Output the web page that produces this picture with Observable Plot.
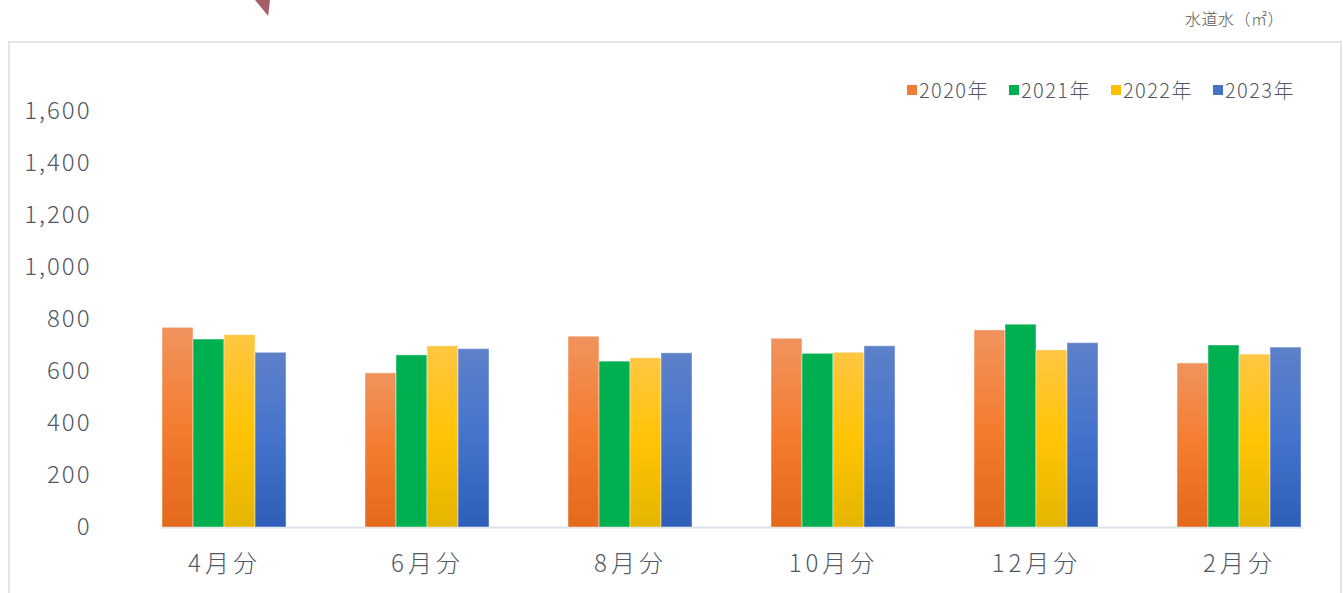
<!DOCTYPE html>
<html>
<head>
<meta charset="utf-8">
<script src="https://cdn.jsdelivr.net/npm/d3@7"></script>
<script src="https://cdn.jsdelivr.net/npm/@observablehq/plot@0.6"></script>
<style>
  html, body { margin: 0; padding: 0; background: #fff; overflow: hidden; }
  #wrap { position: relative; width: 1343px; height: 593px; font-family: "Noto Sans CJK JP", "Noto Sans", sans-serif; font-weight: 300; }
  #chart { position: absolute; left: 0; top: 0; }
  #frame { position: absolute; left: 8px; top: 41px; width: 1334px; height: 600px; border: 2px solid #e4e4e4; box-sizing: border-box; pointer-events: none; }
  #pointer { position: absolute; left: 255px; top: 0; width: 15px; height: 16px; background: #a85e69; clip-path: polygon(0 0, 100% 0, 88% 100%); }
  #unit { position: absolute; left: 1185px; top: 6px; font-size: 16px; color: #595959; white-space: nowrap; letter-spacing: 0.5px; }
  #legend { position: absolute; left: 907px; top: 77px; display: flex; font-size: 20px; color: #505866; line-height: 26px; }
  .item { width: 102px; display: flex; align-items: center; letter-spacing: 1.4px; white-space: nowrap; }
  .sw { width: 10px; height: 10px; margin-right: 2px; flex: none; }
  #chart svg [aria-label="fx-axis tick label"] { letter-spacing: 4px; }
  #chart svg [aria-label="y-axis tick label"] { letter-spacing: 2px; }
</style>
</head>
<body>
<div id="wrap">
  <div id="chart"></div>
  <div id="frame"></div>
  <div id="pointer"></div>
  <div id="unit"></div>
  <div id="legend"></div>
</div>
<script>
// ---- data ----
const months = ["4月分", "6月分", "8月分", "10月分", "12月分", "2月分"];
const years = ["2020年", "2021年", "2022年", "2023年"];
const v2020 = [768, 593, 734, 726, 758, 631];
const v2021 = [723, 662, 638, 668, 780, 700];
const v2022 = [740, 697, 651, 672, 681, 665];
const v2023 = [672, 686, 670, 697, 709, 692];
const yTicks = [0, 200, 400, 600, 800, 1000, 1200, 1400, 1600];
const unitLabel = "水道水（㎡）";

// ---- styles ----
const swatchColors = ["#f07d35", "#00b050", "#ffc000", "#4472c4"];
const gradStops = [
  ["#f1935e", "#f47c2f", "#e3691b"],
  ["#00b050", "#00b050", "#00b050"],
  ["#ffc643", "#ffc404", "#e4b500"],
  ["#5d81c9", "#4573cc", "#2e5eb8"]
];
const gradIds = years.map((_, i) => "grad" + i);

const series = [v2020, v2021, v2022, v2023];
const data = [];
months.forEach((m, mi) => {
  years.forEach((y, yi) => data.push({month: m, year: y, value: series[yi][mi]}));
});

const plot = Plot.plot({
  width: 1343,
  height: 593,
  marginLeft: 120,
  marginRight: 0,
  marginTop: 111,
  marginBottom: 66,
  style: {
    fontFamily: "'Noto Sans CJK JP', 'Noto Sans', sans-serif",
    fontSize: "24px",
    fontWeight: 300,
    color: "#505866",
    background: "transparent",
    letterSpacing: "1px"
  },
  fx: {domain: months, paddingInner: 0.39, paddingOuter: 0.195, label: null, tickSize: 0, tickPadding: 27},
  x: {domain: years, padding: 0, axis: null},
  y: {domain: [0, 1600], ticks: yTicks, tickFormat: d3.format(","), tickSize: 0, tickPadding: 71, label: null},
  color: {domain: years, range: gradIds.map(id => `url(#${id})`)},
  marks: [
    Plot.frame({anchor: "bottom", facet: "super", stroke: "#dde1e8", strokeWidth: 2}),
    Plot.barY(data, {fx: "month", x: "year", y: "value", fill: "year", stroke: "#ffffff", strokeOpacity: 0.45, strokeWidth: 1})
  ]
});

// gradients
const ns = "http://www.w3.org/2000/svg";
const defs = document.createElementNS(ns, "defs");
gradIds.forEach((id, i) => {
  const g = document.createElementNS(ns, "linearGradient");
  g.setAttribute("id", id);
  g.setAttribute("x1", "0"); g.setAttribute("y1", "0");
  g.setAttribute("x2", "0"); g.setAttribute("y2", "1");
  [0, 0.5, 1].forEach((o, k) => {
    const s = document.createElementNS(ns, "stop");
    s.setAttribute("offset", o);
    s.setAttribute("stop-color", gradStops[i][k]);
    g.appendChild(s);
  });
  defs.appendChild(g);
});
plot.prepend(defs);
document.getElementById("chart").appendChild(plot);

document.getElementById("unit").textContent = unitLabel;
const legend = document.getElementById("legend");
years.forEach((y, i) => {
  const it = document.createElement("div");
  it.className = "item";
  const sw = document.createElement("span");
  sw.className = "sw";
  sw.style.background = swatchColors[i];
  const t = document.createElement("span");
  t.textContent = y;
  it.appendChild(sw); it.appendChild(t);
  legend.appendChild(it);
});
</script>
</body>
</html>
